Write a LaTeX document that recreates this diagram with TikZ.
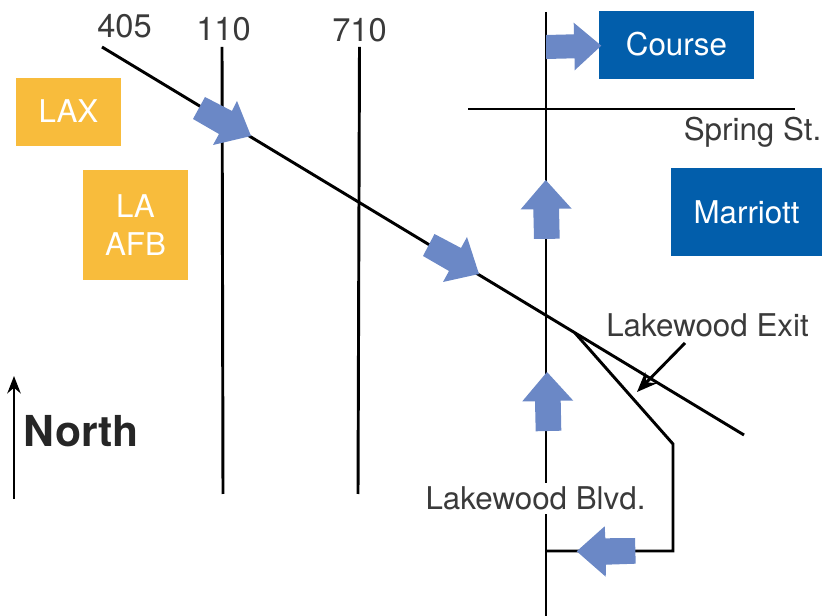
\documentclass[tikz,border=0pt]{standalone}
\usepackage{fontspec}
\setmainfont{TeX Gyre Heros}
\usetikzlibrary{arrows.meta}
\definecolor{roadblack}{HTML}{000000}
\definecolor{txt}{HTML}{3A3A3A}
\definecolor{flow}{HTML}{6B88C6}
\definecolor{amberbox}{HTML}{F8BC3C}
\definecolor{bluebox}{HTML}{025EAB}
\tikzset{
  road/.style={draw=roadblack,line width=2.2pt},
  flowarrow/.style={fill=flow,draw=none},
  amber/.style={fill=amberbox,draw=none,text=white,inner sep=0pt,align=center,font=\fontsize{23.5}{28}\selectfont},
  hotel/.style={fill=bluebox,draw=none,text=white,inner sep=0pt,align=center,font=\fontsize{23.5}{28}\selectfont},
  lbl/.style={text=txt,inner sep=0pt,anchor=base,font=\fontsize{23.5}{28}\selectfont},
  numlbl/.style={lbl,font=\fontsize{24.5}{28}\selectfont},
}
\begin{document}
\begin{tikzpicture}[x=0.75pt,y=-0.75pt]
\useasboundingbox (0,0) rectangle (822,616);
% road end points
\coordinate (r405a) at (102,47);
\coordinate (r405b) at (744,435);
\coordinate (r110a) at (222,47);
\coordinate (r110b) at (223,494);
\coordinate (r710a) at (359.5,47);
\coordinate (r710b) at (358,494);
\coordinate (lwa) at (546,12);
\coordinate (lwb) at (546,616);
\coordinate (spa) at (468,109);
\coordinate (spb) at (795,109);
\coordinate (exa) at (575,333);
\coordinate (exb) at (673,444);
\coordinate (exc) at (673,551);
\coordinate (exd) at (546,551);
\coordinate (na) at (14,499);
\coordinate (nb) at (14,376);
\coordinate (pa) at (685,343);
\coordinate (pb) at (637,392);
% roads
\draw[road] (r110a) -- (r110b);
\draw[road] (r710a) -- (r710b);
\draw[road] (lwa) -- (lwb);
\draw[road] (spa) -- (spb);
\draw[road] (r405a) -- (r405b);
\draw[road,line join=miter] (exa) -- (exb) -- (exc) -- (exd);
\draw[road,-{Stealth[length=13pt,width=10pt]}] (na) -- (nb);
\draw[road,-{Stealth[length=15pt,width=12pt]}] (pa) -- (pb);
% boxes
\node[amber,minimum width=78.75pt,minimum height=51pt] (lax) at (68.5,112) {\raisebox{1pt}{LAX}};
\node[amber,minimum width=78.75pt,minimum height=82.5pt] (afb) at (135.5,225) {LA\\AFB};
\node[hotel,minimum width=116.25pt,minimum height=51pt] (course) at (676.5,45) {\raisebox{2pt}{Course}};
\node[hotel,minimum width=113.25pt,minimum height=66pt] (marriott) at (746.5,212) {Marriott};
% flow arrows
\fill[flowarrow] (205,97) -- (193,119) -- (219,134) -- (213,145) -- (251,136) -- (237,101) -- (232,111) -- cycle;
\fill[flowarrow] (434.5,234) -- (423,256) -- (449,271) -- (443,282) -- (479,274) -- (467,237) -- (461,248) -- cycle;
\fill[flowarrow] (545.7,180) -- (571.7,208.7) -- (559,208.7) -- (559.7,238.7) -- (534,239) -- (533.3,209.3) -- (520.7,209.3) -- cycle;
\fill[flowarrow] (547,372) -- (573.3,400.7) -- (560.7,400.7) -- (561.3,430.7) -- (535.7,431.3) -- (535,401.3) -- (522.3,401.3) -- cycle;
\fill[flowarrow] (576.7,551.3) -- (604.7,526.3) -- (605.3,538.3) -- (635,538) -- (635.7,563.7) -- (606,564.7) -- (605.7,576.7) -- cycle;
\fill[flowarrow] (601.3,45.7) -- (573.7,22.7) -- (574,34.3) -- (546,35) -- (546,59) -- (574.7,58.3) -- (574.7,70.3) -- cycle;
% labels
\node[numlbl] (l405) at (124.5,38) {405};
\node[numlbl] (l110) at (223.5,41) {110};
\node[numlbl] (l710) at (359.5,42) {710};
\node[lbl] (lspring) at (752.5,141) {Spring St.};
\node[lbl] (lexit) at (707.5,337) {Lakewood Exit};
\node[lbl,fill=white,inner ysep=3pt] (lblvd) at (535.5,510) {Lakewood Blvd.};
\node[inner sep=0pt,anchor=base,text=black!85,font=\bfseries\fontsize{32}{36}\selectfont] (lnorth) at (81.5,447) {North};
\end{tikzpicture}
\end{document}
